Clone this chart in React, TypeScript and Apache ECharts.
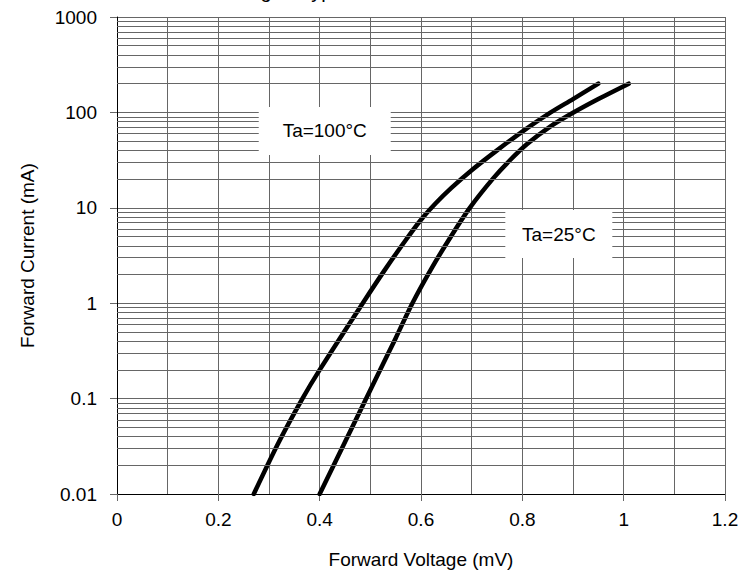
import React, { useEffect, useRef } from "react";
import * as echarts from "echarts";

const xTickLabels = ["0", "0.2", "0.4", "0.6", "0.8", "1", "1.2"];
const yTickLabels = ["0.01", "0.1", "1", "10", "100", "1000"];

const ta100Voltage = [0.27, 0.32, 0.366, 0.4, 0.485, 0.53, 0.57, 0.6, 0.63, 0.66, 0.7, 0.75, 0.8, 0.85, 0.9, 0.95];
const ta100Current = [0.01, 0.0355, 0.1, 0.2, 1, 2.29, 4.6, 7.5, 11.3, 16.2, 24.8, 40, 63, 95.5, 138, 200];

const ta25Voltage = [0.4, 0.45, 0.5, 0.55, 0.583, 0.62, 0.66, 0.697, 0.742, 0.775, 0.81, 0.855, 0.9, 0.95, 1.01];
const ta25Current = [0.01, 0.035, 0.123, 0.43, 1, 2.28, 5.1, 10.1, 20.2, 31.3, 46.9, 71, 99, 138, 200];

const decades = [0.01, 0.1, 1, 10, 100];
const minorMultipliers = [2, 3, 4, 5, 6, 7, 8, 9];

const labelTexts = ["Ta=100°C", "Ta=25°C"];
const labelVoltage = [0.41, 0.872];
const labelCurrent = [64, 5.3];

const titleText = "Forward Voltage - Typical";

const FONT = "'Liberation Sans', Arial, sans-serif";

export default function App() {
  const ref = useRef<HTMLDivElement>(null);
  useEffect(() => {
    document.body.style.margin = "0";
    if (!ref.current) return;
    const chart = echarts.init(ref.current, null, { renderer: "svg" });
    const minorValues: number[] = [];
    decades.forEach((d) => minorMultipliers.forEach((m) => minorValues.push(d * m)));
    const gridColor = "#666";
    const curveStyle = { color: "#000", width: 4.5, cap: "round", join: "round" };
    chart.setOption({
      animation: false,
      backgroundColor: "#fff",
      textStyle: { fontFamily: FONT },
      grid: { left: 117, right: 28, top: 17, bottom: 86 },
      graphic: [
        {
          type: "text",
          x: 137,
          y: 1,
          style: {
            text: titleText,
            font: `20px ${FONT}`,
            fill: "#000",
            textAlign: "left",
            textVerticalAlign: "bottom",
          },
          z: 10,
        },
      ],
      xAxis: {
        type: "value",
        min: 0,
        max: 1.2,
        interval: 0.2,
        name: "Forward Voltage (mV)",
        nameLocation: "middle",
        nameGap: 56,
        nameTextStyle: { fontSize: 19, color: "#000", fontFamily: FONT },
        axisLine: { show: true, onZero: false, lineStyle: { color: "#000", width: 1 } },
        axisTick: { show: true, length: 7, lineStyle: { color: "#666" } },
        axisLabel: {
          fontSize: 19,
          color: "#000",
          margin: 16,
          fontFamily: FONT,
          formatter: (v: number) => xTickLabels[Math.round(v / 0.2)] ?? "",
        },
        splitLine: { show: true, lineStyle: { color: gridColor, width: 1 } },
        minorTick: { show: false, splitNumber: 2 },
        minorSplitLine: { show: true, lineStyle: { color: gridColor, width: 1 } },
      },
      yAxis: {
        type: "log",
        logBase: 10,
        min: 0.01,
        max: 1000,
        name: "Forward Current (mA)",
        nameLocation: "middle",
        nameGap: 80,
        nameTextStyle: { fontSize: 19, color: "#000", fontFamily: FONT },
        axisLine: { show: true, lineStyle: { color: "#000", width: 1 } },
        axisTick: { show: true, length: 7, lineStyle: { color: "#666" } },
        axisLabel: {
          fontSize: 19,
          color: "#000",
          margin: 20,
          fontFamily: FONT,
          formatter: (v: number) => yTickLabels[Math.round(Math.log10(v)) + 2] ?? "",
        },
        splitLine: { show: true, lineStyle: { color: gridColor, width: 1 } },
      },
      series: [
        {
          type: "line",
          data: [],
          z: 1,
          silent: true,
          markLine: {
            silent: true,
            symbol: "none",
            label: { show: false },
            lineStyle: { color: gridColor, width: 1, type: "solid" },
            data: minorValues.map((v) => ({ yAxis: v })),
          },
        },
        {
          type: "line",
          name: "Ta=100",
          z: 3,
          smooth: 0.3,
          showSymbol: false,
          symbol: "none",
          lineStyle: curveStyle,
          data: ta100Voltage.map((v, i) => [v, ta100Current[i]]),
        },
        {
          type: "line",
          name: "Ta=25",
          z: 3,
          smooth: 0.3,
          showSymbol: false,
          symbol: "none",
          lineStyle: curveStyle,
          data: ta25Voltage.map((v, i) => [v, ta25Current[i]]),
        },
        {
          type: "line",
          data: [],
          z: 4,
          silent: true,
          markPoint: {
            silent: true,
            data: labelTexts.map((t, i) => ({
              coord: [labelVoltage[i], labelCurrent[i]],
              symbol: "rect",
              symbolSize: i === 0 ? [132, 48] : [107, 48],
              itemStyle: { color: "#fff" },
              label: {
                show: true,
                position: "inside",
                formatter: t,
                fontSize: 19,
                color: "#000",
                fontFamily: FONT,
              },
            })),
          },
        },
      ],
    });
    return () => chart.dispose();
  }, []);
  return <div ref={ref} style={{ width: 753, height: 580 }} />;
}
